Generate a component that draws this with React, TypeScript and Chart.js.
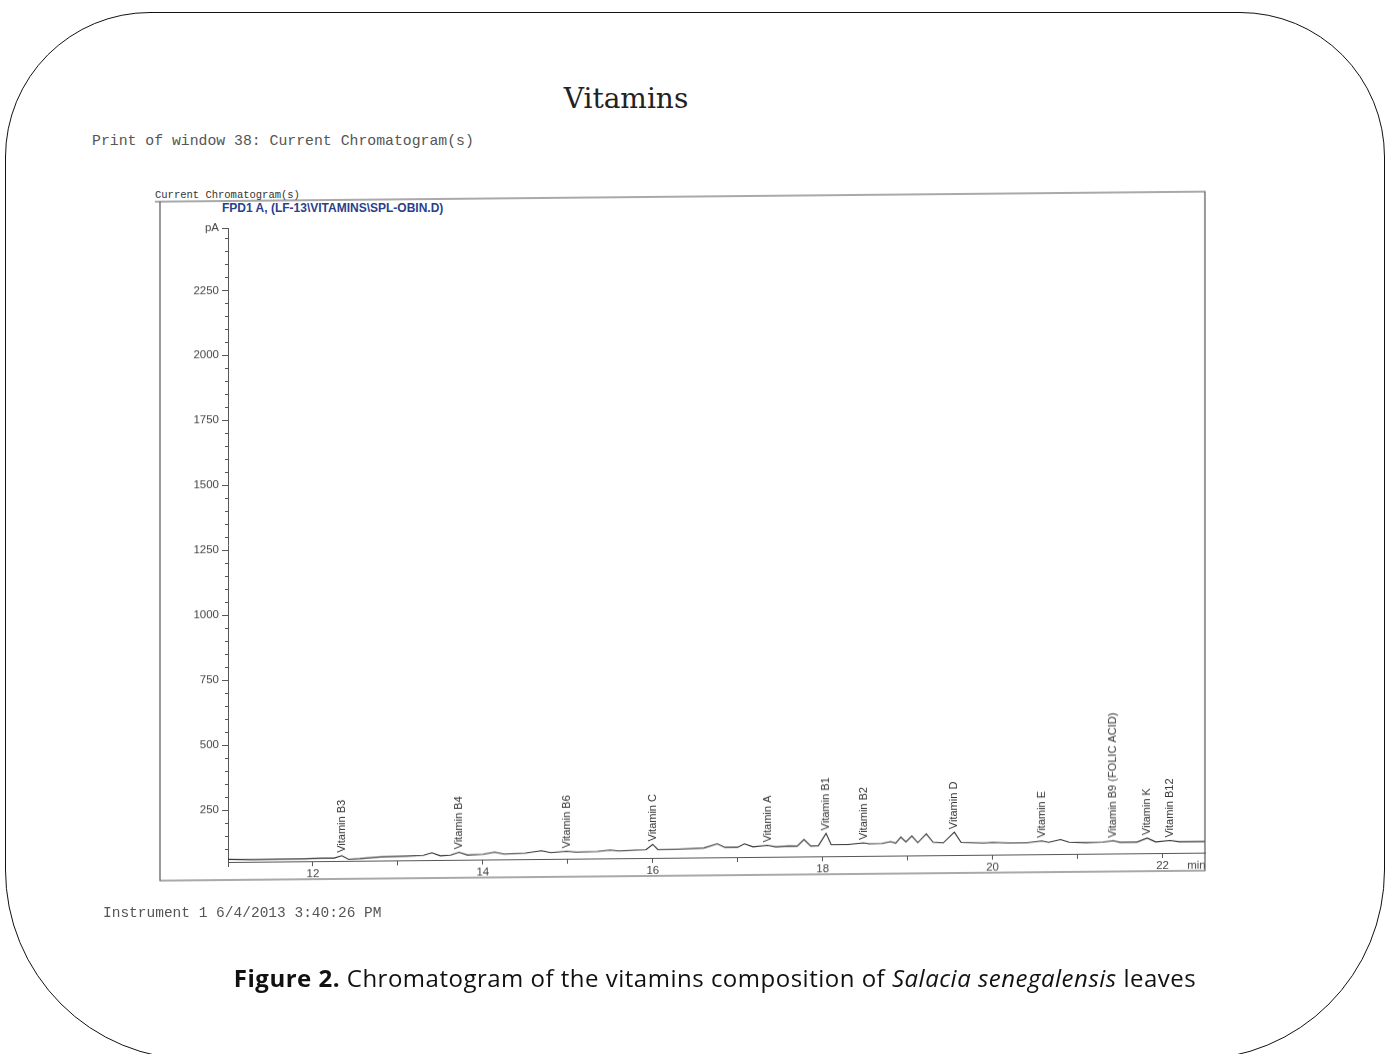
import React, { useEffect, useRef } from 'react';
import { Chart, registerables } from 'chart.js';

Chart.register(...registerables);

// Retention time (min)
const retentionTimes = [
  11.0, 11.3, 11.6, 11.9, 12.1, 12.25, 12.34, 12.42, 12.55, 12.8,
  13.1, 13.3, 13.4, 13.5, 13.62, 13.72, 13.82, 14.0, 14.14, 14.25,
  14.5, 14.69, 14.8, 14.99, 15.1, 15.35, 15.5, 15.6, 15.8, 15.92,
  16.0, 16.06, 16.3, 16.6, 16.76, 16.85, 17.0, 17.08, 17.18, 17.35,
  17.45, 17.6, 17.7, 17.78, 17.86, 17.95, 18.04, 18.1, 18.3, 18.48,
  18.55, 18.7, 18.8, 18.86, 18.92, 18.98, 19.05, 19.12, 19.22, 19.3,
  19.42, 19.55, 19.63, 19.9, 20.0, 20.2, 20.4, 20.58, 20.66, 20.8,
  20.9, 21.1, 21.3, 21.42, 21.5, 21.7, 21.82, 21.92, 22.09, 22.2,
  22.5,
];

// Detector signal (pA)
const signalValues = [
  60, 58, 59, 59, 61, 61, 70, 56, 58, 64,
  66, 68, 78, 66, 68, 79, 68, 70, 78, 70,
  73, 82, 74, 79, 75, 77, 82, 78, 81, 82,
  102, 82, 83, 86, 102, 88, 88, 101, 89, 94,
  88, 91, 90, 115, 90, 91, 138, 94, 94, 100,
  96, 97, 104, 98, 121, 102, 125, 99, 132, 100,
  97, 138, 98, 95, 97, 94, 94, 101, 95, 106,
  95, 93, 94, 99, 93, 93, 108, 93, 98, 93,
  93,
];

// Identified peaks
const peakTimes = [12.34, 13.72, 14.99, 16.0, 17.35, 18.04, 18.48, 19.55, 20.58, 21.42, 21.82, 22.09];
const peakNames = [
  'Vitamin B3', 'Vitamin B4', 'Vitamin B6', 'Vitamin C', 'Vitamin A', 'Vitamin B1',
  'Vitamin B2', 'Vitamin D', 'Vitamin E', 'Vitamin B9 (FOLIC ACID)', 'Vitamin K', 'Vitamin B12',
];

// Axis ticks
const yTickValues = [250, 500, 750, 1000, 1250, 1500, 1750, 2000, 2250];
const yUnitTick = 2490;
const yMinorStep = 50;
const xTickValues = [11, 12, 13, 14, 15, 16, 17, 18, 19, 20, 21, 22];
const xUnitTick = 22.4;

const SANS = '"Liberation Sans", Arial, sans-serif';
const MONO = '"Liberation Mono", "DejaVu Sans Mono", monospace';

const decorPlugin = {
  id: 'chromDecor',
  afterDraw(chart: any) {
    const { ctx, chartArea, scales } = chart;
    const xs = scales.x;
    const ys = scales.y;
    ctx.save();
    // outer frame of the printout
    ctx.strokeStyle = '#555';
    ctx.lineWidth = 1.2;
    ctx.beginPath();
    ctx.moveTo(155, 201);
    ctx.lineTo(chartArea.right, 201);
    ctx.lineTo(chartArea.right, 880);
    ctx.lineTo(160, 880);
    ctx.lineTo(160, 201);
    ctx.stroke();

    // minor y ticks
    ctx.strokeStyle = '#555';
    ctx.lineWidth = 1;
    for (let v = ys.min + yMinorStep; v < ys.max; v += yMinorStep) {
      const rv = Math.round(v / yMinorStep) * yMinorStep;
      if (rv % 250 === 0) continue;
      const y = Math.round(ys.getPixelForValue(rv)) + 0.5;
      ctx.beginPath();
      ctx.moveTo(chartArea.left - 3, y);
      ctx.lineTo(chartArea.left, y);
      ctx.stroke();
    }

    // peak labels
    ctx.fillStyle = '#333';
    ctx.font = `11px ${SANS}`;
    ctx.textAlign = 'left';
    ctx.textBaseline = 'middle';
    peakTimes.forEach((t, k) => {
      let best = 0;
      retentionTimes.forEach((rt, i) => {
        if (Math.abs(rt - t) < Math.abs(retentionTimes[best] - t)) best = i;
      });
      const x = xs.getPixelForValue(t);
      const y = ys.getPixelForValue(signalValues[best]) - 3;
      ctx.save();
      ctx.translate(x, y);
      ctx.rotate(-Math.PI / 2);
      ctx.fillText(peakNames[k], 0, 0);
      ctx.restore();
    });
    ctx.restore();
  },
};

export default function App() {
  const canvasRef = useRef<HTMLCanvasElement | null>(null);

  useEffect(() => {
    const canvas = canvasRef.current;
    if (!canvas) return;
    const chart = new Chart(canvas, {
      type: 'line',
      data: {
        datasets: [
          {
            data: retentionTimes.map((t, i) => ({ x: t, y: signalValues[i] })),
            borderColor: '#333',
            borderWidth: 1.1,
            pointRadius: 0,
            tension: 0,
            fill: false,
          },
        ],
      },
      options: {
        responsive: false,
        animation: false,
        devicePixelRatio: 1,
        layout: { padding: { left: 168, right: 183, top: 228, bottom: 162 } },
        plugins: { legend: { display: false }, tooltip: { enabled: false } },
        scales: {
          x: {
            type: 'linear',
            min: 11,
            max: 22.5,
            afterBuildTicks: (s: any) => {
              s.ticks = [...xTickValues, xUnitTick].map((v) => ({ value: v }));
            },
            afterFit: (s: any) => {
              s.height = 30;
            },
            ticks: {
              autoSkip: false,
              maxRotation: 0,
              padding: 1,
              color: '#444',
              font: { family: SANS, size: 11.5 },
              callback: (v: any) => (v === xUnitTick ? 'min' : v % 2 === 0 ? String(v) : ''),
            },
            grid: {
              drawOnChartArea: false,
              drawTicks: true,
              tickLength: 5,
              color: (c: any) => (c.tick && c.tick.value === xUnitTick ? 'rgba(0,0,0,0)' : '#555'),
              tickColor: (c: any) => (c.tick && c.tick.value === xUnitTick ? 'rgba(0,0,0,0)' : '#555'),
            },
            border: { display: true, color: '#555', width: 1 },
          },
          y: {
            type: 'linear',
            min: 50,
            max: 2490,
            afterBuildTicks: (s: any) => {
              s.ticks = [...yTickValues, yUnitTick].map((v) => ({ value: v }));
            },
            afterFit: (s: any) => {
              s.width = 60;
            },
            ticks: {
              autoSkip: false,
              padding: 3,
              color: '#444',
              font: { family: SANS, size: 11.5 },
              callback: (v: any) => (v === yUnitTick ? 'pA' : String(v)),
            },
            grid: {
              drawOnChartArea: false,
              drawTicks: true,
              tickLength: 6,
              color: '#555',
              tickColor: '#555',
            },
            border: { display: true, color: '#555', width: 1 },
          },
        },
      },
      plugins: [decorPlugin],
    });
    return () => chart.destroy();
  }, []);

  const abs = (s: React.CSSProperties): React.CSSProperties => ({ position: 'absolute', whiteSpace: 'nowrap', margin: 0, ...s });

  return (
    <div style={{ position: 'absolute', left: 0, top: 0, width: 1388, height: 1054, overflow: 'hidden', background: '#fff' }}>
      <div
        style={abs({
          left: 5,
          top: 12,
          width: 1378,
          height: 1046,
          border: '1.5px solid #111',
          borderRadius: '145px 145px 190px 190px',
        })}
      />
      <div style={abs({ left: 526, top: 84, width: 200, textAlign: 'center', fontFamily: '"DejaVu Serif", serif', fontSize: 28, lineHeight: '30px', color: '#222' })}>
        Vitamins
      </div>
      <div style={abs({ left: 92, top: 133, fontFamily: MONO, fontSize: 14.8, lineHeight: '16px', color: '#555' })}>
        Print of window 38: Current Chromatogram(s)
      </div>
      <div style={abs({ left: 155, top: 189, fontFamily: MONO, fontSize: 10.5, lineHeight: '12px', color: '#333' })}>
        Current Chromatogram(s)
      </div>
      <div style={abs({ left: 222, top: 202, fontFamily: SANS, fontSize: 12, fontWeight: 'bold', lineHeight: '13px', color: '#2b3f8c' })}>
        {'FPD1 A, (LF-13\\VITAMINS\\SPL-OBIN.D)'}
      </div>
      <canvas
        ref={canvasRef}
        width={1388}
        height={1054}
        style={{ position: 'absolute', left: 0, top: 0, width: 1388, height: 1054, transform: 'skewY(-0.55deg)', transformOrigin: '228px 862px' }}
      />
      <div style={abs({ left: 103, top: 905, fontFamily: MONO, fontSize: 14.5, lineHeight: '16px', color: '#555' })}>
        Instrument 1 6/4/2013 3:40:26 PM
      </div>
      <div style={abs({ left: 0, width: 1430, top: 962, textAlign: 'center', fontFamily: '"Open Sans", "Noto Sans", sans-serif', fontSize: 24, letterSpacing: '0.5px', lineHeight: '32px', color: '#111' })}>
        <b>Figure 2.</b> Chromatogram of the vitamins composition of <i>Salacia senegalensis</i> leaves
      </div>
    </div>
  );
}
